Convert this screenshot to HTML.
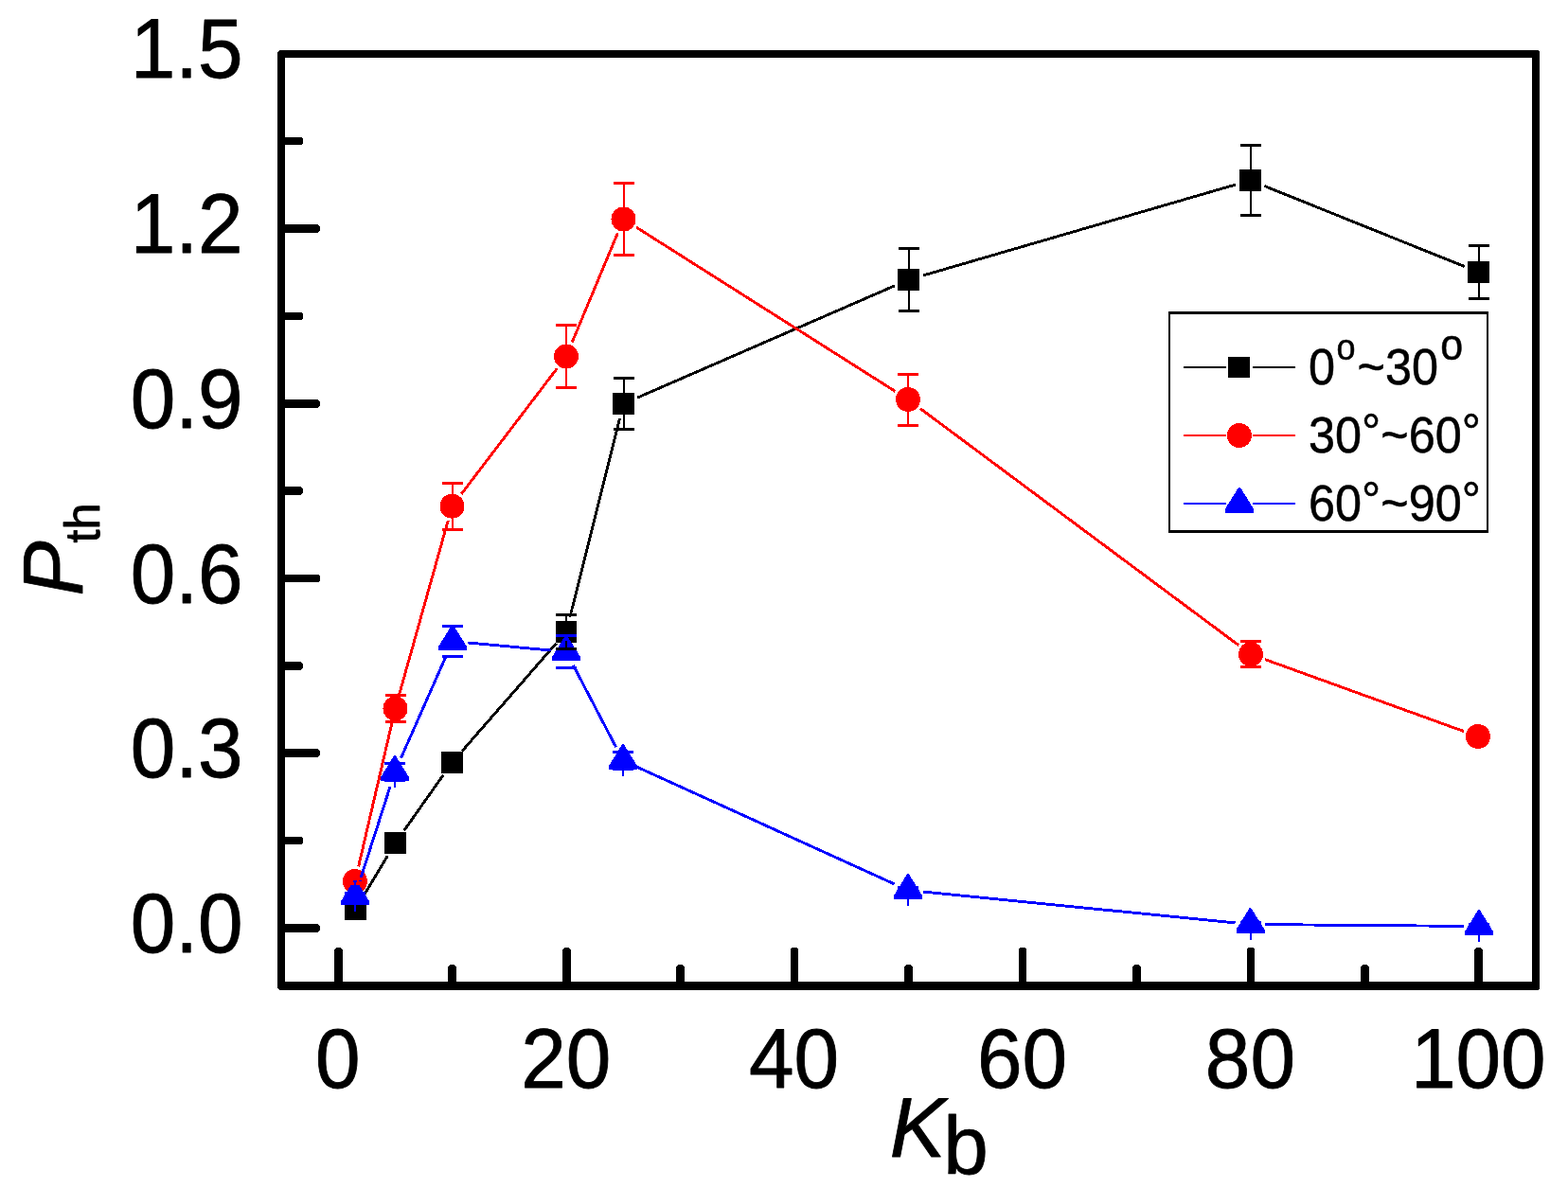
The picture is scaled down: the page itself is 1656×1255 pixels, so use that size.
<!DOCTYPE html>
<html lang="en"><head><meta charset="utf-8"><title>P_th versus K_b</title>
<style>html,body{margin:0;padding:0;background:#fff;}body{width:1656px;height:1255px;overflow:hidden;}svg{display:block;}text{font-family:'Liberation Sans', Arial, Helvetica, sans-serif;fill:#000;}</style>
</head><body>
<svg width="1656" height="1255" viewBox="0 0 1656 1255" shape-rendering="crispEdges">
<rect x="0" y="0" width="1656" height="1255" fill="#ffffff"/>
<path fill="#000" fill-rule="evenodd" d="M295 53H1624L1626 55V1044L1624 1046H295L293 1044V55ZM301 61V1037H1618V61Z"/>
<path fill="#000" d="M300 976.15H335.80L338.00 978.35V982.65L335.80 984.85H300ZM300 883.78H317.80L320.00 885.98V890.28L317.80 892.48H300ZM300 791.40H335.80L338.00 793.60V797.90L335.80 800.10H300ZM300 699.03H317.80L320.00 701.23V705.53L317.80 707.73H300ZM300 606.65H335.80L338.00 608.85V613.15L335.80 615.35H300ZM300 514.28H317.80L320.00 516.48V520.78L317.80 522.98H300ZM300 421.90H335.80L338.00 424.10V428.40L335.80 430.60H300ZM300 329.53H317.80L320.00 331.73V336.03L317.80 338.23H300ZM300 237.15H335.80L338.00 239.35V243.65L335.80 245.85H300ZM300 144.78H317.80L320.00 146.98V151.28L317.80 153.48H300ZM352.95 1038V1003.20L355.15 1001.00H359.45L361.65 1003.20V1038ZM593.85 1038V1003.20L596.05 1001.00H600.35L602.55 1003.20V1038ZM834.75 1038V1003.20L836.95 1001.00H841.25L843.45 1003.20V1038ZM1075.65 1038V1003.20L1077.85 1001.00H1082.15L1084.35 1003.20V1038ZM1316.55 1038V1003.20L1318.75 1001.00H1323.05L1325.25 1003.20V1038ZM1557.45 1038V1003.20L1559.65 1001.00H1563.95L1566.15 1003.20V1038ZM473.40 1038V1021.20L475.60 1019.00H479.90L482.10 1021.20V1038ZM714.30 1038V1021.20L716.50 1019.00H720.80L723.00 1021.20V1038ZM955.20 1038V1021.20L957.40 1019.00H961.70L963.90 1021.20V1038ZM1196.10 1038V1021.20L1198.30 1019.00H1202.60L1204.80 1021.20V1038ZM1437.00 1038V1021.20L1439.20 1019.00H1443.50L1445.70 1021.20V1038Z"/>
<text transform="translate(256.60,1006.10) scale(1.0000,1.0500)" font-size="85.5" text-anchor="end" stroke="#000" stroke-width="0.8" stroke-linejoin="round">0.0</text>
<text transform="translate(256.60,821.35) scale(1.0000,1.0500)" font-size="85.5" text-anchor="end" stroke="#000" stroke-width="0.8" stroke-linejoin="round">0.3</text>
<text transform="translate(256.60,636.60) scale(1.0000,1.0500)" font-size="85.5" text-anchor="end" stroke="#000" stroke-width="0.8" stroke-linejoin="round">0.6</text>
<text transform="translate(256.60,451.85) scale(1.0000,1.0500)" font-size="85.5" text-anchor="end" stroke="#000" stroke-width="0.8" stroke-linejoin="round">0.9</text>
<text transform="translate(256.60,267.10) scale(1.0000,1.0500)" font-size="85.5" text-anchor="end" stroke="#000" stroke-width="0.8" stroke-linejoin="round">1.2</text>
<text transform="translate(256.60,82.35) scale(1.0000,1.0500)" font-size="85.5" text-anchor="end" stroke="#000" stroke-width="0.8" stroke-linejoin="round">1.5</text>
<text transform="translate(356.80,1149.00) scale(1.0000,1.0500)" font-size="85.5" text-anchor="middle" stroke="#000" stroke-width="0.8" stroke-linejoin="round">0</text>
<text transform="translate(597.70,1149.00) scale(1.0000,1.0500)" font-size="85.5" text-anchor="middle" stroke="#000" stroke-width="0.8" stroke-linejoin="round">20</text>
<text transform="translate(838.60,1149.00) scale(1.0000,1.0500)" font-size="85.5" text-anchor="middle" stroke="#000" stroke-width="0.8" stroke-linejoin="round">40</text>
<text transform="translate(1079.50,1149.00) scale(1.0000,1.0500)" font-size="85.5" text-anchor="middle" stroke="#000" stroke-width="0.8" stroke-linejoin="round">60</text>
<text transform="translate(1320.40,1149.00) scale(1.0000,1.0500)" font-size="85.5" text-anchor="middle" stroke="#000" stroke-width="0.8" stroke-linejoin="round">80</text>
<text transform="translate(1561.30,1149.00) scale(1.0000,1.0500)" font-size="85.5" text-anchor="middle" stroke="#000" stroke-width="0.8" stroke-linejoin="round">100</text>
<text transform="translate(939.80,1221.80) scale(1.0300,1.0500)" font-size="85.5" text-anchor="start" stroke="#000" stroke-width="0.8" stroke-linejoin="round"><tspan font-style="italic">K</tspan><tspan font-size="83" dx="-2.2" dy="17.3">b</tspan></text>
<text transform="translate(87.10,629.50) rotate(-90) scale(1.0200,1.0500)" font-size="85.5" text-anchor="start" stroke="#000" stroke-width="0.8" stroke-linejoin="round"><tspan font-style="italic">P</tspan><tspan font-size="49.5" dx="-2.2" dy="17">th</tspan></text>
<path d="M383.73 946.78L409.27 904.22M426.73 877.43L468.27 818.57M488.02 793.45L587.48 679.55M601.90 651.98L654.60 442.02M673.17 420.12L944.83 301.88M974.86 291.03L1305.14 194.97M1335.34 196.47L1546.66 281.53" stroke="#000000" stroke-width="2.9" fill="none"/>
<g fill="#000000">
<rect x="364" y="949" width="23" height="23"/>
<rect x="406" y="879" width="23" height="23"/>
<rect x="466" y="794" width="23" height="23"/>
<rect x="587" y="656" width="22" height="23"/>
<rect x="647" y="415" width="23" height="23"/>
<rect x="948" y="284" width="23" height="23"/>
<rect x="1309" y="179" width="23" height="23"/>
<rect x="1550" y="276" width="23" height="23"/>
</g>
<path d="M378.63 915.42L413.87 764.08M421.82 733.10L473.18 550.10M487.19 521.97L588.31 389.23M604.16 361.73L652.34 246.27M672.01 240.07L945.49 413.43M971.84 431.55L1308.16 681.65M1336.05 696.64L1545.95 772.56" stroke="#ff0000" stroke-width="2.9" fill="none"/>
<g fill="#ff0000">
<circle cx="375.0" cy="931.0" r="13"/>
<circle cx="417.5" cy="748.5" r="13"/>
<circle cx="477.5" cy="534.7" r="13"/>
<circle cx="598.0" cy="376.5" r="13"/>
<circle cx="658.5" cy="231.5" r="13"/>
<circle cx="959.0" cy="422.0" r="13"/>
<circle cx="1321.0" cy="691.2" r="13"/>
<circle cx="1561.0" cy="778.0" r="13"/>
</g>
<path d="M379.88 931.26L412.12 830.74M423.47 800.87L471.53 692.13M493.93 678.96L582.07 687.04M605.40 702.69L650.60 789.31M672.56 810.13L944.44 933.87M974.92 942.09L1304.58 974.91M1336.50 976.63L1546.00 978.37" stroke="#0000ff" stroke-width="2.9" fill="none"/>
<g fill="#0000ff">
<path d="M374.3 929.0H375.7L390.0 952.0V956.0H360.0V952.0Z"/>
<path d="M416.3 798.0H417.7L432.0 821.0V825.0H402.0V821.0Z"/>
<path d="M477.3 660.0H478.7L493.0 683.0V687.0H463.0V683.0Z"/>
<path d="M597.3 671.0H598.7L613.0 694.0V698.0H583.0V694.0Z"/>
<path d="M657.3 786.0H658.7L673.0 809.0V813.0H643.0V809.0Z"/>
<path d="M958.3 923.0H959.7L974.0 946.0V950.0H944.0V946.0Z"/>
<path d="M1319.8 959.0H1321.2L1335.5 982.0V986.0H1305.5V982.0Z"/>
<path d="M1561.3 961.0H1562.7L1577.0 984.0V988.0H1547.0V984.0Z"/>
</g>
<path d="M587 648h22v3h-22zM587 684h22v3h-22zM648 398h22v3h-22zM648 452h22v3h-22zM949 261h22v3h-22zM949 327h22v3h-22zM1310 152h22v3h-22zM1310 226h22v3h-22zM1551 258h22v3h-22zM1551 314h22v3h-22z" fill="#000000"/>
<path d="M598.20 658.00V649.00M598.20 677.00V686.00M658.70 417.00V399.00M658.70 436.00V454.00M959.70 286.00V262.50M959.70 305.00V328.50M1320.70 181.00V153.50M1320.70 200.00V227.50M1561.70 278.00V259.50M1561.70 297.00V315.50" stroke="#000000" stroke-width="2.4" fill="none"/>
<path d="M364 927h22v3h-22zM364 932h22v3h-22zM407 733h22v3h-22zM407 761h22v3h-22zM467 509h22v3h-22zM467 558h22v3h-22zM587 342h22v3h-22zM587 408h22v3h-22zM648 192h22v3h-22zM648 268h22v3h-22zM948 394h22v3h-22zM948 448h22v3h-22zM1310 676h22v3h-22zM1310 703h22v3h-22z" fill="#ff0000"/>
<path d="M417.70 738.50V734.70M417.70 758.50V762.30M477.70 524.70V510.40M477.70 544.70V559.00M598.20 366.50V343.80M598.20 386.50V409.20M658.70 221.50V193.30M658.70 241.50V269.70M959.20 412.00V395.00M959.20 432.00V449.00M1321.20 681.20V678.00M1321.20 701.20V704.40" stroke="#ff0000" stroke-width="2.4" fill="none"/>
<path d="M364 942h22v3h-22zM364 948h22v3h-22zM406 805h22v3h-22zM406 823h22v3h-22zM467 660h22v3h-22zM467 692h22v3h-22zM587 670h22v3h-22zM587 704h22v3h-22zM647 793h22v3h-22zM647 811h22v3h-22zM948 936h22v3h-22zM948 942h22v3h-22zM1310 973h22v3h-22zM1310 977h22v3h-22zM1551 975h22v3h-22zM1551 979h22v3h-22z" fill="#0000ff"/>
<path d="M375.20 929.70V943.50M375.20 963.30V949.50M417.20 798.70V806.50M417.20 832.30V824.50M478.20 660.70V661.20M478.20 694.30V693.80M598.20 671.70V671.50M598.20 705.30V705.50M658.20 786.70V794.50M658.20 820.30V812.50M959.20 923.70V937.50M959.20 957.30V943.50M1320.70 959.70V974.50M1320.70 993.30V978.50M1562.20 961.70V976.50M1562.20 995.30V980.50" stroke="#0000ff" stroke-width="2.4" fill="none"/>
<path fill="#000" fill-rule="evenodd" d="M1234 329H1572V563H1234ZM1236 332V560H1570V332Z"/>
<path d="M1250 388.0H1294.8M1322.8 388.0H1368" stroke="#000000" stroke-width="2.4" fill="none"/>
<path d="M1250 460.0H1294.8M1322.8 460.0H1368" stroke="#ff0000" stroke-width="2.4" fill="none"/>
<path d="M1250 532.0H1294.8M1322.8 532.0H1368" stroke="#0000ff" stroke-width="2.4" fill="none"/>
<rect x="1297" y="377" width="23" height="22" fill="#000"/>
<circle cx="1308.8" cy="460" r="13" fill="#ff0000"/>
<path d="M1308.3 514.5H1309.7L1324.0 537.5V541.5H1294.0V537.5Z" fill="#0000ff"/>
<text transform="translate(1382.00,405.70) scale(1.0000,1.0730)" font-size="50.4" text-anchor="start" stroke="#000" stroke-width="0.5" stroke-linejoin="round">0<tspan font-size="36" dx="1.5" dy="-23.9">o</tspan><tspan dx="1.9" dy="23.9">~30</tspan><tspan font-size="43" dx="2.2" dy="-23.9">o</tspan></text>
<text transform="translate(1382.00,477.70) scale(1.0000,1.0730)" font-size="50.4" text-anchor="start" stroke="#000" stroke-width="0.5" stroke-linejoin="round">30<tspan dy="-2.6">°</tspan><tspan dy="2.6">~60</tspan><tspan dy="-2.6">°</tspan></text>
<text transform="translate(1382.00,549.70) scale(1.0000,1.0730)" font-size="50.4" text-anchor="start" stroke="#000" stroke-width="0.5" stroke-linejoin="round">60<tspan dy="-2.6">°</tspan><tspan dy="2.6">~90</tspan><tspan dy="-2.6">°</tspan></text>
</svg>
</body></html>
